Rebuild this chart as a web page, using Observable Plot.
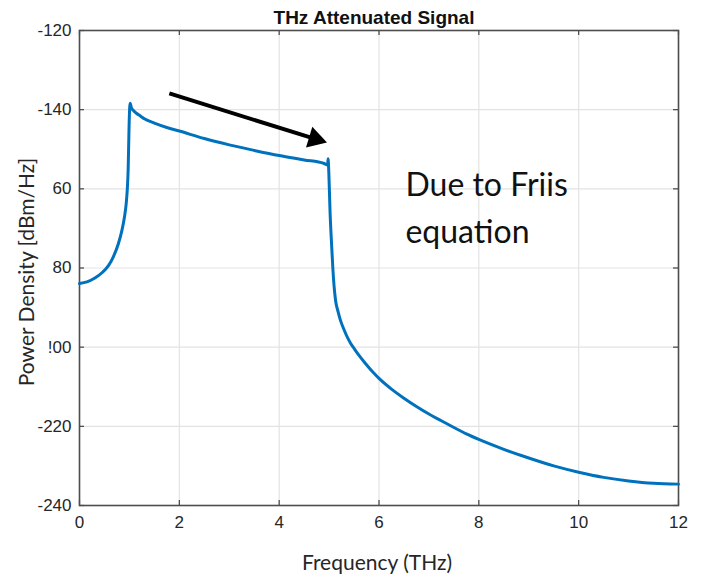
<!DOCTYPE html>
<html>
<head>
<meta charset="utf-8">
<script src="https://cdn.jsdelivr.net/npm/d3@7"></script>
<script src="https://cdn.jsdelivr.net/npm/@observablehq/plot@0.6"></script>
<style>
  html, body { margin: 0; padding: 0; background: #fff; }
  #chart { width: 701px; height: 579px; }
</style>
</head>
<body>
<div id="chart"></div>
<script>
// ---- data ----
const freq = [0, 0.15, 0.3, 0.45, 0.58, 0.68, 0.78, 0.85, 0.9, 0.935, 0.958, 0.975, 0.99, 1.005, 1.015, 1.04, 1.08, 1.14, 1.22, 1.3, 1.5, 1.75, 2.0, 2.5, 3.0, 3.5, 4.0, 4.5, 4.9, 4.97, 4.98, 4.995, 5.02, 5.05, 5.075, 5.1, 5.13, 5.18, 5.23, 5.3, 5.37, 5.43, 5.5, 5.6, 5.7, 5.8, 5.9, 6.0, 6.25, 6.5, 6.75, 7.0, 7.25, 7.5, 7.75, 8.0, 8.5, 9.0, 9.5, 10.0, 10.5, 11.0, 11.5, 12.0];
const power = [-183.9, -183.5, -182.6, -181.2, -179.4, -177.1, -173.8, -170.5, -167.2, -163.8, -160.0, -155.0, -146.0, -139.5, -138.4, -139.5, -140.2, -140.9, -141.6, -142.3, -143.4, -144.5, -145.4, -147.3, -148.9, -150.3, -151.6, -152.7, -153.6, -154.0, -152.4, -156.0, -166.0, -174.0, -180.0, -184.6, -188.2, -191.0, -193.3, -195.6, -197.6, -199.0, -200.3, -202.1, -203.7, -205.2, -206.6, -207.9, -210.6, -212.9, -215.0, -216.9, -218.6, -220.3, -221.9, -223.3, -225.8, -228.0, -230.0, -231.6, -232.9, -233.8, -234.4, -234.6];

const xTicks = [0, 2, 4, 6, 8, 10, 12];
const yTicks = [-120, -140, -160, -180, -200, -220, -240];
const yTickLabels = ["-120", "-140", "60", "80", "!00", "-220", "-240"];

const arrowStart = [{x: 1.8, y: -135.9}];
const arrowEnd = [{x: 4.72, y: -147.4}];

const titleText = "THz Attenuated Signal";
const xLabel = "Frequency (THz)";
const yLabel = "Power Density [dBm/Hz]";
const noteText = "Due to Friis\nequation";
const notePos = [{x: 6.53, y: -153.6}];

// ---- layout ----
const W = 701, H = 579;
const mL = 79, mR = 23, mT = 30, mB = 74;
const fw = W - mL - mR, fh = H - mT - mB;
const tickLen = 5;

const data = freq.map((f, i) => ({f, p: power[i]}));
const labelOf = new Map(yTicks.map((t, i) => [t, yTickLabels[i]]));
const arrowData = [{x1: arrowStart[0].x, y1: arrowStart[0].y, x2: arrowEnd[0].x, y2: arrowEnd[0].y}];
const labelFont = "Lato, 'Open Sans', sans-serif";

const chart = Plot.plot({
  width: W, height: H,
  marginLeft: mL, marginRight: mR, marginTop: mT, marginBottom: mB,
  style: {fontFamily: "'Liberation Sans', Arial, sans-serif", fontSize: "17px", color: "#262626", background: "#fff"},
  x: {domain: [0, 12], ticks: xTicks},
  y: {domain: [-240, -120], ticks: yTicks},
  marks: [
    Plot.gridX(xTicks, {stroke: "#e3e3e3", strokeOpacity: 1, strokeWidth: 1.2}),
    Plot.gridY(yTicks, {stroke: "#e3e3e3", strokeOpacity: 1, strokeWidth: 1.2}),
    // inward ticks on all four sides
    Plot.tickX(xTicks, {x: d => d, insetTop: fh - tickLen, stroke: "#444", strokeWidth: 1.2}),
    Plot.tickX(xTicks, {x: d => d, insetBottom: fh - tickLen, stroke: "#444", strokeWidth: 1.2}),
    Plot.tickY(yTicks, {y: d => d, insetRight: fw - tickLen, stroke: "#444", strokeWidth: 1.2}),
    Plot.tickY(yTicks, {y: d => d, insetLeft: fw - tickLen, stroke: "#444", strokeWidth: 1.2}),
    Plot.axisX(xTicks, {tickSize: 0, tickPadding: 10, fill: "#262626", label: null}),
    Plot.axisY(yTicks, {tickSize: 0, tickPadding: 8, tickFormat: d => labelOf.get(d), fill: "#262626", label: null}),
    Plot.frame({stroke: "#4d4d4d", strokeWidth: 1.6}),
    Plot.line(data, {x: "f", y: "p", stroke: "#0072BD", strokeWidth: 3, curve: "monotone-x"}),
    // annotation arrow
    Plot.link(arrowData, {x1: "x1", y1: "y1", x2: "x2", y2: "y2", stroke: "#000", strokeWidth: 4}),
    Plot.dot(arrowEnd, {x: "x", y: "y", symbol: "triangle", r: 8, fill: "#000", stroke: null, rotate: 107}),
    Plot.text(notePos, {x: "x", y: "y", text: () => noteText, textAnchor: "start", lineAnchor: "top", lineHeight: 1.45, fontSize: 32, fontFamily: labelFont, fill: "#111"}),
    // title and axis labels
    Plot.text([titleText], {frameAnchor: "top", text: d => d, textAnchor: "middle", dy: -20, dx: -5, fontWeight: "bold", fontSize: 19, fill: "#111"}),
    Plot.text([xLabel], {frameAnchor: "bottom", text: d => d, textAnchor: "middle", dy: 64, dx: -2, fontSize: 21, fontFamily: labelFont, fill: "#262626"}),
    Plot.text([yLabel], {frameAnchor: "left", text: d => d, textAnchor: "middle", dx: -52, dy: 4, rotate: -90, fontSize: 21, fontFamily: labelFont, fill: "#262626"})
  ]
});
document.getElementById("chart").appendChild(chart);
</script>
</body>
</html>
